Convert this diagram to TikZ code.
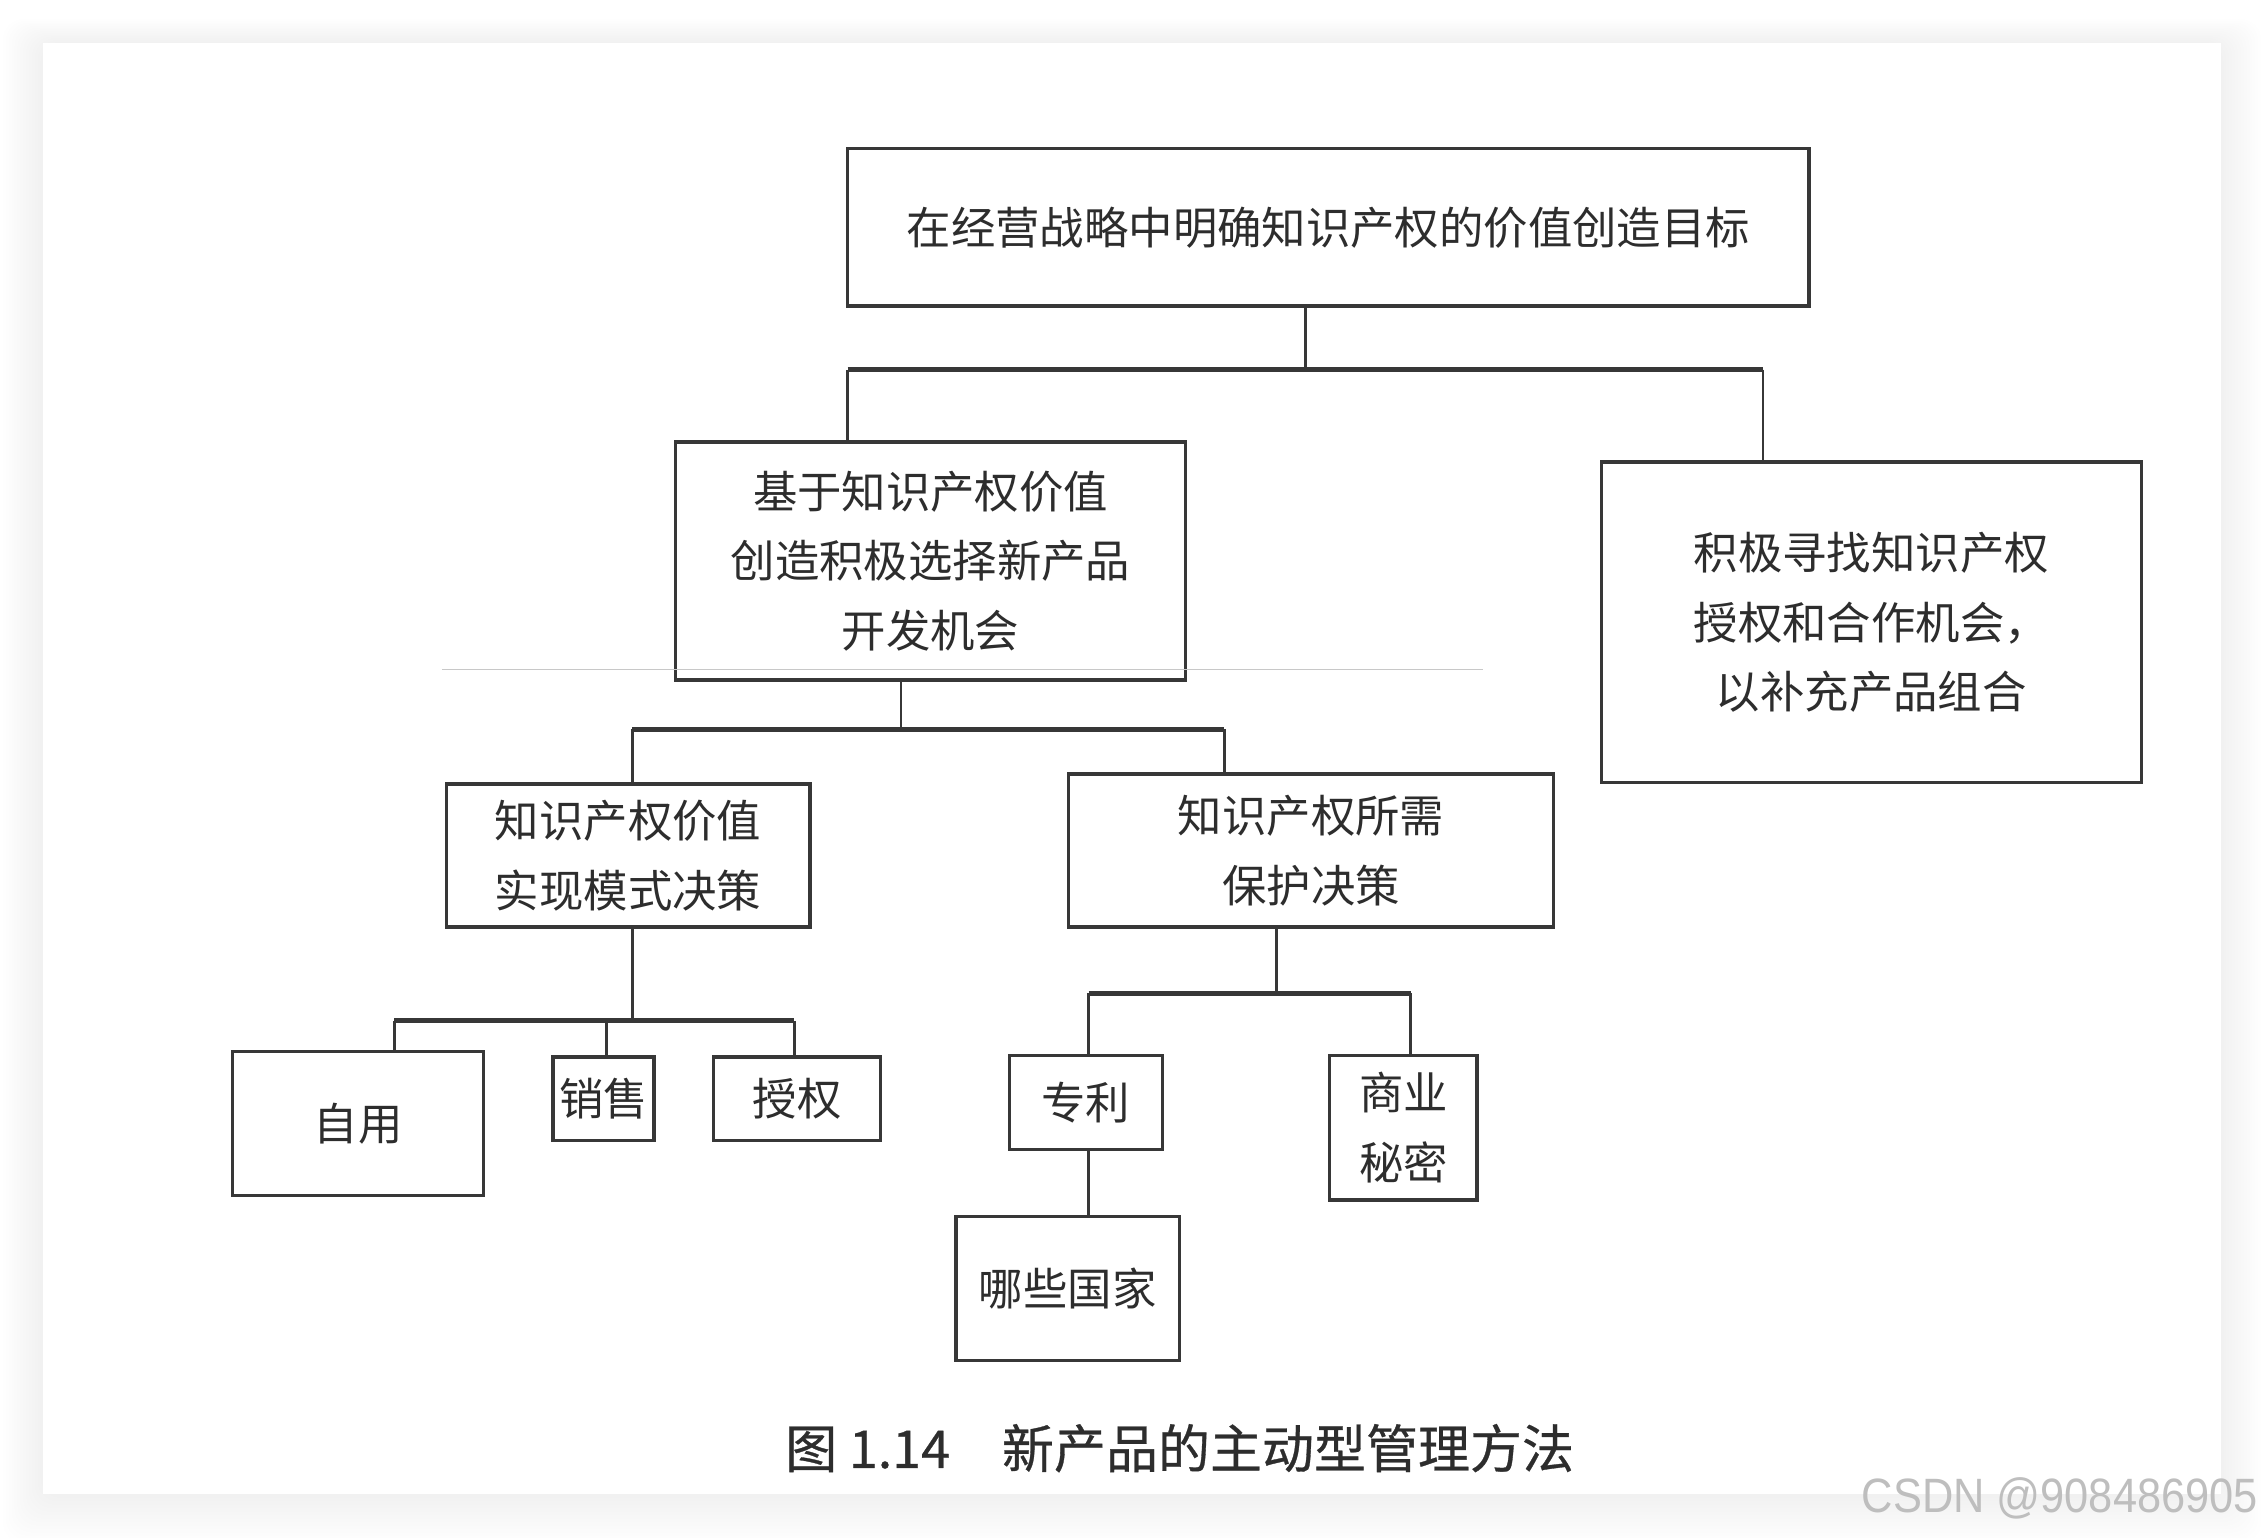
\documentclass[tikz,border=0pt]{standalone}
\usepackage{fontspec}
\setmainfont{Noto Sans CJK SC}
\newfontfamily\capfont[FakeBold=0.6]{Noto Sans CJK SC}
\newfontfamily\wmfont[FakeStretch=0.9]{Liberation Sans}
\usepackage{tikz}
\usetikzlibrary{positioning}
\definecolor{inkgray}{RGB}{45,45,45}
\definecolor{linegray}{RGB}{55,55,55}
\definecolor{scanline}{RGB}{200,200,200}
\definecolor{markgray}{RGB}{190,190,190}

\begin{document}
\begin{tikzpicture}[
  x=0.02cm, y=-0.02cm,
  box/.style={draw=linegray, line width=1.3pt, inner sep=0pt, align=center,
              font=\fontsize{17.5}{27.5}\selectfont, text=inkgray},
  link/.style={draw=linegray, line width=1.1pt},
  bus/.style={draw=linegray, line width=2pt},
  caption/.style={font=\capfont\fontsize{20.5}{24}\selectfont, text=inkgray},
]
\useasboundingbox (0,0) rectangle (1568,1065);
\fill[white] (0,0) rectangle (1568,1065);
\foreach \d in {2,4,...,28}
  \fill[black, opacity=0.005, rounded corners=8pt]
    (30-\d,30-\d*0.6) rectangle (1538+\d,1035+\d*1.2);
\fill[white] (30,30) rectangle (1538,1035);

\node[box, minimum width=13.32cm, minimum height=2.18cm] (goal) at (920,157.5)
  {在经营战略中明确知识产权的价值创造目标};
\node[box, minimum width=7.06cm, minimum height=3.30cm] (select) at (644.5,388.5)
  {基于知识产权价值\\创造积极选择新产品\\开发机会};
\node[box, minimum width=7.48cm, minimum height=4.44cm] (partner) at (1296,431)
  {积极寻找知识产权\\授权和合作机会，\\以补充产品组合};

\node[box, minimum width=5.04cm, minimum height=1.98cm] (realize) at (435,592.5)
  {知识产权价值\\实现模式决策};
\node[box, minimum width=6.72cm, minimum height=2.12cm] (protect) at (908,589)
  {知识产权所需\\保护决策};

\node[box, minimum width=3.48cm, minimum height=2.0cm] (selfuse) at (248,778) {自用};
\node[box, minimum width=1.40cm, minimum height=1.16cm] (sale) at (418,761) {销售};
\node[box, minimum width=2.32cm, minimum height=1.16cm] (license) at (552,761) {授权};
\node[box, minimum width=2.12cm, minimum height=1.30cm] (patent) at (752,763.5) {专利};
\node[box, minimum width=2.04cm, minimum height=2.0cm] (secret) at (972,781) {商业\\秘密};
\node[box, minimum width=3.10cm, minimum height=2.0cm,
      below=0.88cm of patent, xshift=-0.25cm] (country) {哪些国家};

\draw[scanline, line width=0.4pt] (306,464) -- (1027,464);

\coordinate (j1)  at (904,256);
\coordinate (j1a) at (587,256);
\coordinate (j1b) at (1221,256);
\draw[link] (j1 |- goal.south) -- (j1);
\draw[bus]  (j1a) -- (j1b);
\draw[link] (j1a) -- (j1a |- select.north);
\draw[link] (j1b) -- (j1b |- partner.north);

\coordinate (j2)  at (624,505);
\coordinate (j2a) at (438,505);
\coordinate (j2b) at (848,505);
\draw[link] (j2 |- select.south) -- (j2);
\draw[bus]  (j2a) -- (j2b);
\draw[link] (j2a) -- (j2a |- realize.north);
\draw[link] (j2b) -- (j2b |- protect.north);

\coordinate (j3)  at (438,707);
\coordinate (j3a) at (273,707);
\coordinate (j3b) at (420,707);
\coordinate (j3c) at (550,707);
\draw[link] (j3 |- realize.south) -- (j3);
\draw[bus]  (j3a) -- (j3c);
\draw[link] (j3a) -- (j3a |- selfuse.north);
\draw[link] (j3b) -- (j3b |- sale.north);
\draw[link] (j3c) -- (j3c |- license.north);

\coordinate (j4)  at (884,688);
\coordinate (j4a) at (754,688);
\coordinate (j4b) at (977,688);
\draw[link] (j4 |- protect.south) -- (j4);
\draw[bus]  (j4a) -- (j4b);
\draw[link] (j4a) -- (j4a |- patent.north);
\draw[link] (j4b) -- (j4b |- secret.north);
\draw[link] (j4a |- patent.south) -- (j4a |- country.north);

\node[caption] (title) at (817,1003) {图 1.14\hspace{1em}新产品的主动型管理方法};
\node[anchor=east, font=\wmfont\fontsize{19}{22}\selectfont, text=markgray]
  (mark) at (1570,1038) {CSDN @908486905};

\end{tikzpicture}
\end{document}
